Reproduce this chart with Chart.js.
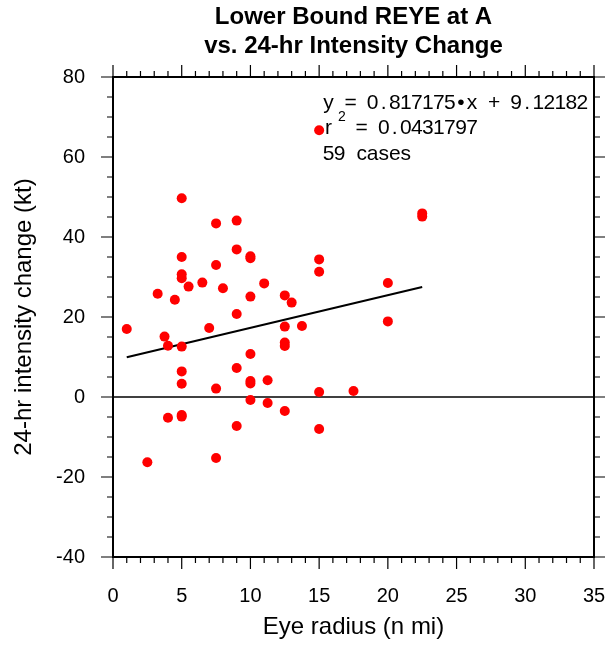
<!DOCTYPE html>
<html>
<head>
<meta charset="utf-8">
<script src="https://cdn.jsdelivr.net/npm/chart.js@4"></script>
<style>
  html, body { margin: 0; padding: 0; background: #fff; }
  #wrap { width: 605px; height: 647px; }
</style>
</head>
<body>
<div id="wrap"><canvas id="c" width="605" height="647"></canvas></div>
<script>
// eye radius (n mi) vs 24-hr intensity change (kt)
const eyeRadius = [15, 5, 7.5, 9, 9, 10, 10, 5, 7.5, 5, 5, 6.5, 5.5, 8, 11, 3.25, 4.5, 10, 12.5, 13,
    15, 15, 22.5, 22.5, 20, 1, 3.75, 4, 5, 7, 9, 12.5, 13.75, 12.5, 12.5, 10, 5, 9, 5, 7.5,
    10, 10, 11.25, 15, 10, 11.25, 12.5, 4, 5, 5, 9, 15, 2.5, 7.5, 20, 17.5];
const intensityChange = [66.7, 49.7, 43.4, 44.1, 36.9, 35.2, 34.7, 35, 33, 30.7, 29.7, 28.6, 27.6, 27.2, 28.4, 25.8, 24.3, 25.1, 25.4, 23.6,
    34.4, 31.3, 45.9, 45.1, 28.5, 17, 15.1, 12.8, 12.6, 17.25, 20.75, 17.6, 17.75, 13.6, 12.75, 10.75, 6.4, 7.25, 3.3, 2.1,
    4.0, 3.4, 4.2, 1.25, -0.75, -1.5, -3.5, -5.2, -4.5, -4.9, -7.25, -8, -16.3, -15.25, 18.9, 1.5];

// fit shown in the plot
const slope = 0.817175;
const intercept = 9.12182;
const fitRange = [1, 22.5];
const fitText = ['y = 0.817175\u2022x + 9.12182', '0.0431797', '59 cases'];

const xTicks = [0, 35, 5, 1];    // min, max, major step, minor step
const yTicks = [-40, 80, 20, 5];

const points = eyeRadius.map((x, i) => ({ x: x, y: intensityChange[i] }));
const fitLine = fitRange.map(x => ({ x: x, y: slope * x + intercept }));

// fixed-pitch text, each glyph centred in its cell
function spacedText(ctx, str, x, y, pitch) {
    for (let i = 0; i < str.length; i++) {
        ctx.fillText(str[i], x + i * pitch + pitch / 2, y);
    }
}

const framePlugin = {
    id: 'frame',
    beforeDraw(chart) {
        const ctx = chart.ctx;
        ctx.save();
        ctx.fillStyle = '#fff';
        ctx.fillRect(0, 0, chart.width, chart.height);
        ctx.restore();
    },
    afterDraw(chart) {
        const ctx = chart.ctx;
        const a = chart.chartArea;
        const xs = chart.scales.x, ys = chart.scales.y;
        ctx.save();
        ctx.strokeStyle = '#000';

        ctx.lineWidth = 1.2;
        ctx.beginPath();
        for (let v = xTicks[0]; v <= xTicks[1]; v += xTicks[3]) {
            const len = v % xTicks[2] === 0 ? 12 : 6;
            const px = xs.getPixelForValue(v);
            ctx.moveTo(px, a.bottom); ctx.lineTo(px, a.bottom + len);
            ctx.moveTo(px, a.top); ctx.lineTo(px, a.top - len);
        }
        for (let v = yTicks[0]; v <= yTicks[1]; v += yTicks[3]) {
            const len = v % yTicks[2] === 0 ? 12 : 6;
            const py = ys.getPixelForValue(v);
            ctx.moveTo(a.left, py); ctx.lineTo(a.left - len, py);
            ctx.moveTo(a.right, py); ctx.lineTo(a.right + len, py);
        }
        ctx.stroke();

        ctx.lineWidth = 2;
        ctx.strokeRect(a.left, a.top, a.right - a.left, a.bottom - a.top);

        // regression text
        ctx.fillStyle = '#000';
        ctx.textBaseline = 'alphabetic';
        ctx.textAlign = 'center';
        ctx.font = '21px "Liberation Sans", Arial, sans-serif';
        const tx = 323, pitch = 11.04;
        spacedText(ctx, fitText[0], tx, 108.5, pitch);
        spacedText(ctx, 'r', tx, 134, pitch);
        spacedText(ctx, '= ' + fitText[1], tx + 3 * pitch, 134, pitch);
        spacedText(ctx, fitText[2], tx, 159.5, pitch);
        ctx.font = '14px "Liberation Sans", Arial, sans-serif';
        ctx.fillText('2', 342, 120.5);
        ctx.restore();
    }
};

new Chart(document.getElementById('c'), {
    type: 'scatter',
    data: {
        datasets: [{
            data: points,
            backgroundColor: '#ff0000',
            borderWidth: 0,
            pointRadius: 5,
            pointHoverRadius: 5
        }, {
            type: 'line',
            data: fitLine,
            borderColor: '#000',
            borderWidth: 2,
            pointRadius: 0,
            fill: false
        }, {
            type: 'line',
            data: [{ x: xTicks[0], y: 0 }, { x: xTicks[1], y: 0 }],
            borderColor: '#000',
            borderWidth: 1.5,
            pointRadius: 0,
            fill: false
        }]
    },
    options: {
        responsive: false,
        animation: false,
        events: [],
        layout: { padding: { left: 0, right: 11, top: 0, bottom: 0 } },
        plugins: {
            legend: { display: false },
            tooltip: { enabled: false },
            title: {
                display: true,
                fullSize: false,
                text: ['Lower Bound REYE at A', 'vs. 24-hr Intensity Change'],
                color: '#000',
                font: { family: '"Liberation Sans", Arial, sans-serif', size: 24, weight: 'bold', lineHeight: 1.2 },
                padding: { top: 3, bottom: 16.4 }
            }
        },
        scales: {
            x: {
                type: 'linear',
                min: xTicks[0],
                max: xTicks[1],
                grid: { display: false, drawTicks: false },
                border: { display: false },
                ticks: {
                    stepSize: xTicks[2],
                    color: '#000',
                    padding: 27,
                    font: { family: '"Liberation Sans", Arial, sans-serif', size: 20 }
                },
                title: {
                    display: true,
                    text: 'Eye radius (n mi)',
                    color: '#000',
                    font: { family: '"Liberation Sans", Arial, sans-serif', size: 24 },
                    padding: { top: 0, bottom: 5 }
                },
                afterFit(s) {
                    s.height = 90;
                    s.paddingLeft = 0;
                    s.paddingRight = 0;
                }
            },
            y: {
                type: 'linear',
                min: yTicks[0],
                max: yTicks[1],
                grid: { display: false, drawTicks: false },
                border: { display: false },
                ticks: {
                    stepSize: yTicks[2],
                    color: '#000',
                    padding: 28,
                    font: { family: '"Liberation Sans", Arial, sans-serif', size: 20 }
                },
                title: {
                    display: true,
                    text: '24-hr intensity change (kt)',
                    color: '#000',
                    font: { family: '"Liberation Sans", Arial, sans-serif', size: 24 },
                    padding: { top: 10, bottom: 0 }
                },
                afterFit(s) {
                    s.width = 113;
                    s.paddingTop = 0;
                    s.paddingBottom = 0;
                }
            }
        }
    },
    plugins: [framePlugin]
});
</script>
</body>
</html>
